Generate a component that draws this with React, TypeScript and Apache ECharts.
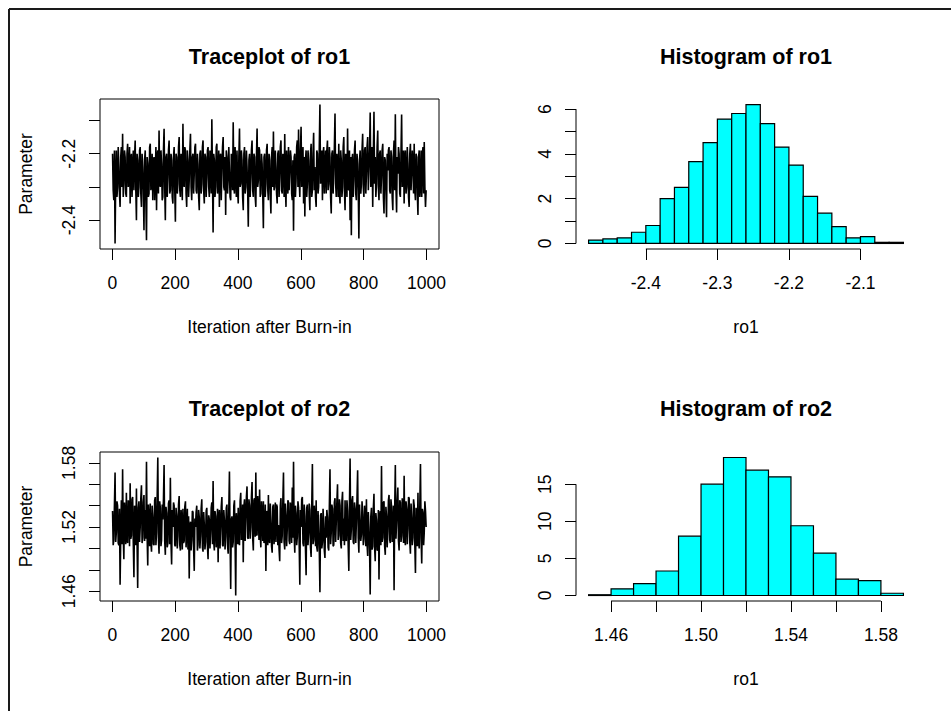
import React, { useEffect, useRef } from "react";
import * as echarts from "echarts";

const FONT = '"Liberation Sans", Arial, Helvetica, sans-serif';

const TITLES = ["Traceplot of ro1", "Histogram of ro1", "Traceplot of ro2", "Histogram of ro2"];
const TRACE_X_NAME = "Iteration after Burn-in";
const TRACE_Y_NAME = "Parameter";
const HIST_X_NAMES = ["ro1", "ro1"];

// "A" draws sit at iterations 1, 5, 9, ...; "B" draws at iterations 3, 7, 11, ...
const TRACE_A_FIRST = 1;
const TRACE_B_FIRST = 3;
const TRACE_STEP = 4;
const RO1_TRACE_A = [
  -2.20, -2.34, -2.47, -2.19, -2.30, -2.24, -2.36, -2.18, -2.14, -2.29,
  -2.21, -2.33, -2.17, -2.27, -2.35, -2.20, -2.25, -2.31, -2.16, -2.40,
  -2.22, -2.30, -2.18, -2.36, -2.24, -2.43, -2.19, -2.46, -2.23, -2.32,
  -2.17, -2.28, -2.34, -2.21, -2.26, -2.37, -2.19, -2.13, -2.30, -2.23,
  -2.33, -2.125, -2.40, -2.20, -2.27, -2.16, -2.31, -2.22, -2.35, -2.18,
  -2.405, -2.21, -2.29, -2.15, -2.33, -2.24, -2.11, -2.30, -2.19, -2.36,
  -2.22, -2.28, -2.14, -2.34, -2.20, -2.26, -2.17, -2.32, -2.23, -2.37,
  -2.19, -2.29, -2.16, -2.35, -2.21, -2.27, -2.18, -2.33, -2.24, -2.096,
  -2.437, -2.22, -2.30, -2.17, -2.28, -2.36, -2.20, -2.25, -2.15, -2.31,
  -2.384, -2.21, -2.27, -2.18, -2.34, -2.23, -2.105, -2.32, -2.26, -2.19,
  -2.35, -2.124, -2.29, -2.22, -2.37, -2.18, -2.30, -2.24, -2.42, -2.20,
  -2.27, -2.16, -2.33, -2.21, -2.36, -2.124, -2.28, -2.19, -2.32, -2.23,
  -2.424, -2.20, -2.29, -2.17, -2.34, -2.22, -2.38, -2.18, -2.133, -2.30,
  -2.24, -2.35, -2.19, -2.27, -2.16, -2.32, -2.22, -2.141, -2.36, -2.25,
  -2.18, -2.31, -2.21, -2.34, -2.432, -2.20, -2.28, -2.16, -2.127, -2.33,
  -2.119, -2.26, -2.35, -2.389, -2.19, -2.29, -2.22, -2.37, -2.17, -2.31,
  -2.137, -2.24, -2.36, -2.20, -2.30, -2.052, -2.27, -2.34, -2.18, -2.25,
  -2.32, -2.16, -2.29, -2.21, -2.38, -2.19, -2.26, -2.079, -2.33, -2.23,
  -2.17, -2.35, -2.22, -2.30, -2.15, -2.37, -2.24, -2.124, -2.31, -2.40,
  -2.445, -2.20, -2.28, -2.16, -2.34, -2.23, -2.455, -2.19, -2.29, -2.14,
  -2.33, -2.18, -2.26, -2.15, -2.31, -2.076, -2.24, -2.36, -2.074, -2.21,
  -2.29, -2.13, -2.34, -2.19, -2.27, -2.17, -2.38, -2.22, -2.391, -2.25,
  -2.18, -2.32, -2.21, -2.37, -2.16, -2.081, -2.377, -2.26, -2.20, -2.33,
  -2.082, -2.28, -2.35, -2.19, -2.30, -2.23, -2.36, -2.17, -2.31, -2.24,
  -2.17, -2.34, -2.21, -2.384, -2.19, -2.29, -2.33, -2.18, -2.165, -2.36,
];
const RO1_TRACE_B = [
  -2.31, -2.19, -2.28, -2.33, -2.18, -2.32, -2.21, -2.30, -2.33, -2.19,
  -2.32, -2.20, -2.30, -2.18, -2.22, -2.33, -2.19, -2.21, -2.31, -2.20,
  -2.33, -2.19, -2.32, -2.20, -2.31, -2.22, -2.34, -2.21, -2.33, -2.18,
  -2.31, -2.20, -2.22, -2.34, -2.18, -2.21, -2.32, -2.29, -2.19, -2.34,
  -2.19, -2.30, -2.21, -2.33, -2.19, -2.32, -2.20, -2.33, -2.21, -2.31,
  -2.20, -2.32, -2.18, -2.31, -2.20, -2.34, -2.28, -2.18, -2.32, -2.19,
  -2.33, -2.19, -2.30, -2.21, -2.32, -2.18, -2.31, -2.20, -2.33, -2.20,
  -2.32, -2.18, -2.31, -2.20, -2.33, -2.19, -2.30, -2.19, -2.32, -2.27,
  -2.20, -2.33, -2.18, -2.32, -2.19, -2.21, -2.34, -2.18, -2.30, -2.21,
  -2.19, -2.32, -2.18, -2.33, -2.20, -2.31, -2.30, -2.18, -2.33, -2.31,
  -2.21, -2.30, -2.19, -2.33, -2.20, -2.32, -2.19, -2.31, -2.22, -2.33,
  -2.19, -2.31, -2.20, -2.33, -2.21, -2.30, -2.18, -2.33, -2.20, -2.32,
  -2.21, -2.33, -2.19, -2.31, -2.20, -2.32, -2.21, -2.30, -2.31, -2.19,
  -2.32, -2.20, -2.33, -2.18, -2.31, -2.20, -2.33, -2.30, -2.19, -2.32,
  -2.31, -2.19, -2.32, -2.22, -2.21, -2.33, -2.18, -2.30, -2.28, -2.19,
  -2.30, -2.18, -2.21, -2.22, -2.33, -2.19, -2.32, -2.20, -2.33, -2.20,
  -2.31, -2.33, -2.19, -2.32, -2.18, -2.29, -2.19, -2.20, -2.32, -2.19,
  -2.19, -2.31, -2.18, -2.33, -2.20, -2.32, -2.18, -2.29, -2.20, -2.33,
  -2.32, -2.19, -2.33, -2.18, -2.31, -2.20, -2.33, -2.30, -2.19, -2.21,
  -2.22, -2.33, -2.19, -2.32, -2.20, -2.31, -2.22, -2.32, -2.19, -2.30,
  -2.19, -2.32, -2.18, -2.31, -2.19, -2.30, -2.18, -2.20, -2.29, -2.33,
  -2.18, -2.30, -2.20, -2.32, -2.19, -2.33, -2.21, -2.31, -2.20, -2.19,
  -2.31, -2.19, -2.33, -2.20, -2.31, -2.30, -2.21, -2.18, -2.32, -2.20,
  -2.30, -2.19, -2.21, -2.32, -2.18, -2.33, -2.20, -2.31, -2.19, -2.32,
  -2.31, -2.20, -2.32, -2.21, -2.33, -2.19, -2.20, -2.32, -2.30, -2.31,
];
const RO2_TRACE_A = [
  1.535, 1.508, 1.571, 1.515, 1.540, 1.503, 1.466, 1.545, 1.574, 1.490,
  1.528, 1.552, 1.505, 1.538, 1.561, 1.512, 1.548, 1.473, 1.532, 1.556,
  1.463, 1.544, 1.520, 1.559, 1.510, 1.550, 1.536, 1.581, 1.484, 1.525,
  1.542, 1.497, 1.530, 1.503, 1.548, 1.515, 1.585, 1.495, 1.538, 1.508,
  1.527, 1.578, 1.494, 1.533, 1.505, 1.545, 1.566, 1.485, 1.520, 1.540,
  1.502, 1.531, 1.512, 1.549, 1.498, 1.528, 1.537, 1.507, 1.544, 1.516,
  1.499, 1.472, 1.525, 1.508, 1.534, 1.479, 1.520, 1.540, 1.503, 1.529,
  1.512, 1.546, 1.497, 1.522, 1.506, 1.538, 1.490, 1.527, 1.515, 1.543,
  1.563, 1.498, 1.530, 1.510, 1.487, 1.536, 1.519, 1.548, 1.502, 1.526,
  1.511, 1.541, 1.495, 1.572, 1.462, 1.530, 1.506, 1.545, 1.456, 1.521,
  1.538, 1.503, 1.552, 1.515, 1.487, 1.546, 1.528, 1.558, 1.509, 1.540,
  1.520, 1.562, 1.498, 1.547, 1.571, 1.513, 1.536, 1.555, 1.501, 1.531,
  1.544, 1.510, 1.479, 1.533, 1.550, 1.505, 1.525, 1.496, 1.541, 1.517,
  1.506, 1.539, 1.522, 1.488, 1.547, 1.512, 1.571, 1.499, 1.530, 1.518,
  1.543, 1.504, 1.527, 1.557, 1.581, 1.496, 1.533, 1.511, 1.538, 1.466,
  1.520, 1.548, 1.502, 1.530, 1.475, 1.541, 1.514, 1.536, 1.492, 1.579,
  1.508, 1.527, 1.545, 1.497, 1.518, 1.459, 1.533, 1.506, 1.522, 1.491,
  1.510, 1.529, 1.498, 1.574, 1.515, 1.537, 1.503, 1.547, 1.525, 1.560,
  1.512, 1.540, 1.500, 1.553, 1.528, 1.545, 1.507, 1.535, 1.479, 1.584,
  1.518, 1.549, 1.504, 1.537, 1.524, 1.573, 1.496, 1.541, 1.513, 1.532,
  1.509, 1.528, 1.546, 1.493, 1.520, 1.457, 1.538, 1.502, 1.551, 1.488,
  1.526, 1.499, 1.471, 1.535, 1.577, 1.510, 1.544, 1.494, 1.529, 1.516,
  1.550, 1.505, 1.539, 1.520, 1.461, 1.578, 1.525, 1.557, 1.498, 1.543,
  1.512, 1.532, 1.568, 1.503, 1.537, 1.519, 1.547, 1.495, 1.528, 1.510,
  1.540, 1.477, 1.524, 1.552, 1.500, 1.579, 1.486, 1.534, 1.515, 1.535,
];
const RO2_TRACE_B = [
  1.503, 1.541, 1.506, 1.544, 1.505, 1.537, 1.510, 1.504, 1.512, 1.543,
  1.504, 1.508, 1.545, 1.502, 1.509, 1.546, 1.505, 1.540, 1.503, 1.507,
  1.538, 1.506, 1.547, 1.505, 1.543, 1.507, 1.509, 1.512, 1.541, 1.502,
  1.506, 1.540, 1.504, 1.545, 1.503, 1.547, 1.510, 1.544, 1.502, 1.541,
  1.546, 1.507, 1.539, 1.501, 1.542, 1.504, 1.506, 1.536, 1.543, 1.503,
  1.538, 1.500, 1.541, 1.503, 1.536, 1.499, 1.505, 1.539, 1.501, 1.537,
  1.530, 1.519, 1.498, 1.535, 1.500, 1.528, 1.534, 1.498, 1.536, 1.500,
  1.537, 1.501, 1.534, 1.499, 1.535, 1.502, 1.531, 1.500, 1.538, 1.504,
  1.506, 1.535, 1.501, 1.537, 1.530, 1.500, 1.539, 1.503, 1.536, 1.499,
  1.538, 1.503, 1.536, 1.509, 1.527, 1.501, 1.540, 1.506, 1.533, 1.504,
  1.506, 1.544, 1.508, 1.541, 1.539, 1.507, 1.548, 1.510, 1.546, 1.509,
  1.548, 1.510, 1.545, 1.511, 1.512, 1.549, 1.508, 1.513, 1.544, 1.507,
  1.505, 1.541, 1.535, 1.503, 1.508, 1.542, 1.502, 1.539, 1.504, 1.543,
  1.541, 1.503, 1.499, 1.540, 1.505, 1.544, 1.506, 1.542, 1.502, 1.545,
  1.507, 1.543, 1.505, 1.510, 1.512, 1.540, 1.503, 1.544, 1.504, 1.536,
  1.546, 1.505, 1.541, 1.500, 1.538, 1.503, 1.542, 1.501, 1.539, 1.504,
  1.540, 1.502, 1.501, 1.535, 1.499, 1.531, 1.500, 1.537, 1.498, 1.530,
  1.536, 1.501, 1.539, 1.504, 1.541, 1.502, 1.543, 1.506, 1.544, 1.508,
  1.546, 1.505, 1.544, 1.507, 1.503, 1.509, 1.545, 1.502, 1.540, 1.508,
  1.545, 1.506, 1.543, 1.505, 1.547, 1.510, 1.541, 1.507, 1.544, 1.503,
  1.540, 1.502, 1.504, 1.534, 1.500, 1.530, 1.499, 1.537, 1.501, 1.533,
  1.498, 1.536, 1.530, 1.503, 1.506, 1.543, 1.502, 1.539, 1.501, 1.545,
  1.508, 1.546, 1.506, 1.540, 1.537, 1.509, 1.544, 1.507, 1.545, 1.506,
  1.547, 1.505, 1.509, 1.544, 1.504, 1.548, 1.506, 1.542, 1.503, 1.546,
  1.504, 1.538, 1.502, 1.507, 1.541, 1.510, 1.537, 1.503, 1.544, 1.520,
];

const ITER_RANGE = [1, 1000];
const ITER_TICKS = [0, 200, 400, 600, 800, 1000];
const RO1_TRACE_Y_TICKS = [-2.4, -2.3, -2.2, -2.1];
const RO1_TRACE_Y_LABELS = [-2.4, -2.2];
const RO2_TRACE_Y_TICKS = [1.46, 1.48, 1.5, 1.52, 1.54, 1.56, 1.58];
const RO2_TRACE_Y_LABELS = [1.46, 1.52, 1.58];

// Histograms (density scale)
const RO1_BREAKS = [
  -2.48, -2.46, -2.44, -2.42, -2.40, -2.38, -2.36, -2.34, -2.32, -2.30, -2.28, -2.26,
  -2.24, -2.22, -2.20, -2.18, -2.16, -2.14, -2.12, -2.10, -2.08, -2.06, -2.04,
];
const RO1_DENSITY = [
  0.15, 0.2, 0.25, 0.5, 0.8, 2.0, 2.5, 3.65, 4.5, 5.55, 5.8,
  6.2, 5.35, 4.3, 3.5, 2.1, 1.35, 0.75, 0.25, 0.3, 0.05, 0.05,
];
const RO1_HIST_X_TICKS = [-2.4, -2.3, -2.2, -2.1];
const RO1_HIST_Y_TICKS = [0, 1, 2, 3, 4, 5, 6];
const RO1_HIST_Y_LABELS = [0, 2, 4, 6];

const RO2_BREAKS = [1.45, 1.46, 1.47, 1.48, 1.49, 1.50, 1.51, 1.52, 1.53, 1.54, 1.55, 1.56, 1.57, 1.58, 1.59];
const RO2_DENSITY = [0.1, 0.9, 1.6, 3.3, 8.0, 15.0, 18.6, 16.9, 16.0, 9.4, 5.7, 2.2, 2.0, 0.3];
const RO2_HIST_X_TICKS = [1.46, 1.48, 1.5, 1.52, 1.54, 1.56, 1.58];
const RO2_HIST_X_LABELS = [1.46, 1.5, 1.54, 1.58];
const RO2_HIST_Y_TICKS = [0, 5, 10, 15];
const RO2_HIST_Y_LABELS = [0, 5, 10, 15];

// ---- layout (pixels) ----
const PANELS = [
  { left: 100, top: 99, width: 339, height: 150 },
  { left: 576, top: 99, width: 340, height: 150 },
  { left: 100, top: 452, width: 339, height: 149 },
  { left: 576, top: 452, width: 340, height: 149 },
];
const TITLE_TOPS = [46, 46, 398, 398];

const TICK_FS = 17.5;
const TITLE_FS = 21.5;
const TRACE_LINE_WIDTH = 1.6;

// R's default 4% axis extension
const rRange = (lo: number, hi: number) => {
  const d = (hi - lo) * 0.04;
  return [lo - d, hi + d];
};

const textStyle = { color: "#000", fontFamily: FONT, fontSize: TICK_FS };

function makeAxis(
  dim: "x" | "y",
  gridIndex: number,
  range: number[],
  ticks: number[],
  labels: number[],
  digits: number,
  name: string,
  nameGap: number
) {
  return {
    type: "value",
    gridIndex,
    min: range[0],
    max: range[1],
    name,
    nameLocation: "middle",
    nameGap,
    nameTextStyle: { ...textStyle },
    axisLine: { show: false, onZero: false },
    axisTick: {
      show: true,
      inside: false,
      length: 11,
      customValues: ticks,
      lineStyle: { color: "#000", width: 1 },
    },
    axisLabel: {
      show: true,
      customValues: labels,
      margin: dim === "x" ? 25 : 22,
      rotate: dim === "y" ? 90 : 0,
      ...textStyle,
      formatter: (v: number) => v.toFixed(digits),
    },
    splitLine: { show: false },
    splitArea: { show: false },
  };
}

function traceData(a: number[], b: number[]) {
  const pts: number[][] = [];
  a.forEach((v, i) => pts.push([TRACE_A_FIRST + TRACE_STEP * i, v]));
  b.forEach((v, i) => pts.push([TRACE_B_FIRST + TRACE_STEP * i, v]));
  return pts.sort((p, q) => p[0] - q[0]);
}

function traceSeries(idx: number, data: number[][]) {
  return {
    type: "line",
    xAxisIndex: idx,
    yAxisIndex: idx,
    data,
    symbol: "none",
    silent: true,
    lineStyle: { color: "#000", width: TRACE_LINE_WIDTH },
  };
}

function histData(breaks: number[], dens: number[]) {
  return dens.map((d, i) => [breaks[i], breaks[i + 1], d]);
}

function histSeries(idx: number, breaks: number[], dens: number[]) {
  return {
    type: "custom",
    xAxisIndex: idx,
    yAxisIndex: idx,
    data: histData(breaks, dens),
    encode: { x: [0, 1], y: 2 },
    silent: true,
    renderItem: (_p: any, api: any) => {
      const a = api.coord([api.value(0), 0]);
      const b = api.coord([api.value(1), api.value(2)]);
      return {
        type: "rect",
        shape: { x: a[0], y: b[1], width: b[0] - a[0], height: a[1] - b[1] },
        style: { fill: "#00FFFF", stroke: "#000", lineWidth: 1.2 },
      };
    },
  };
}

function axisLineSeries(idx: number, pts: number[][]) {
  return {
    type: "line",
    xAxisIndex: idx,
    yAxisIndex: idx,
    data: pts,
    symbol: "none",
    clip: false,
    silent: true,
    lineStyle: { color: "#000", width: 1 },
  };
}

export default function App() {
  const ref = useRef<HTMLDivElement>(null);

  useEffect(() => {
    if (!ref.current) return;
    const chart = echarts.init(ref.current, undefined, { renderer: "svg" });

    const ro1Data = traceData(RO1_TRACE_A, RO1_TRACE_B);
    const ro2Data = traceData(RO2_TRACE_A, RO2_TRACE_B);
    const ro1All = ro1Data.map((p) => p[1]);
    const ro2All = ro2Data.map((p) => p[1]);

    const xTraceRange = rRange(ITER_RANGE[0], ITER_RANGE[1]);
    const y1TraceRange = rRange(Math.min(...ro1All), Math.max(...ro1All));
    const y2TraceRange = rRange(Math.min(...ro2All), Math.max(...ro2All));
    const x1HistRange = rRange(RO1_BREAKS[0], RO1_BREAKS[RO1_BREAKS.length - 1]);
    const y1HistRange = rRange(0, Math.max(...RO1_DENSITY));
    const x2HistRange = rRange(RO2_BREAKS[0], RO2_BREAKS[RO2_BREAKS.length - 1]);
    const y2HistRange = rRange(0, Math.max(...RO2_DENSITY));

    const option: any = {
      animation: false,
      backgroundColor: "#fff",
      title: TITLES.map((t, i) => ({
        text: t,
        left: PANELS[i].left + PANELS[i].width / 2,
        top: TITLE_TOPS[i],
        textAlign: "center",
        padding: 0,
        textStyle: { color: "#000", fontFamily: FONT, fontSize: TITLE_FS, fontWeight: "bold" },
      })),
      grid: PANELS.map((p, i) => ({
        left: p.left,
        top: p.top,
        width: p.width,
        height: p.height,
        containLabel: false,
        outerBoundsMode: "none",
        show: i % 2 === 0,
        borderColor: "#000",
        borderWidth: 1,
        backgroundColor: "transparent",
      })),
      xAxis: [
        makeAxis("x", 0, xTraceRange, ITER_TICKS, ITER_TICKS, 0, TRACE_X_NAME, 69),
        makeAxis("x", 1, x1HistRange, RO1_HIST_X_TICKS, RO1_HIST_X_TICKS, 1, HIST_X_NAMES[0], 69),
        makeAxis("x", 2, xTraceRange, ITER_TICKS, ITER_TICKS, 0, TRACE_X_NAME, 69),
        makeAxis("x", 3, x2HistRange, RO2_HIST_X_TICKS, RO2_HIST_X_LABELS, 2, HIST_X_NAMES[1], 69),
      ],
      yAxis: [
        makeAxis("y", 0, y1TraceRange, RO1_TRACE_Y_TICKS, RO1_TRACE_Y_LABELS, 1, TRACE_Y_NAME, 65),
        makeAxis("y", 1, y1HistRange, RO1_HIST_Y_TICKS, RO1_HIST_Y_LABELS, 0, "", 65),
        makeAxis("y", 2, y2TraceRange, RO2_TRACE_Y_TICKS, RO2_TRACE_Y_LABELS, 2, TRACE_Y_NAME, 65),
        makeAxis("y", 3, y2HistRange, RO2_HIST_Y_TICKS, RO2_HIST_Y_LABELS, 0, "", 65),
      ],
      series: [
        traceSeries(0, ro1Data),
        traceSeries(2, ro2Data),
        histSeries(1, RO1_BREAKS, RO1_DENSITY),
        histSeries(3, RO2_BREAKS, RO2_DENSITY),
        axisLineSeries(1, [
          [x1HistRange[0], RO1_HIST_Y_TICKS[0]],
          [x1HistRange[0], RO1_HIST_Y_TICKS[RO1_HIST_Y_TICKS.length - 1]],
        ]),
        axisLineSeries(1, [
          [RO1_HIST_X_TICKS[0], y1HistRange[0]],
          [RO1_HIST_X_TICKS[RO1_HIST_X_TICKS.length - 1], y1HistRange[0]],
        ]),
        axisLineSeries(3, [
          [x2HistRange[0], RO2_HIST_Y_TICKS[0]],
          [x2HistRange[0], RO2_HIST_Y_TICKS[RO2_HIST_Y_TICKS.length - 1]],
        ]),
        axisLineSeries(3, [
          [RO2_HIST_X_TICKS[0], y2HistRange[0]],
          [RO2_HIST_X_TICKS[RO2_HIST_X_TICKS.length - 1], y2HistRange[0]],
        ]),
      ],
      graphic: [
        { type: "line", silent: true, shape: { x1: 9, y1: 9, x2: 951, y2: 9 }, style: { stroke: "#1a1a1a", lineWidth: 2 } },
        { type: "line", silent: true, shape: { x1: 9, y1: 9, x2: 9, y2: 711 }, style: { stroke: "#1a1a1a", lineWidth: 2 } },
      ],
    };

    chart.setOption(option);
    return () => chart.dispose();
  }, []);

  return (
    <div
      ref={ref}
      style={{ position: "fixed", left: 0, top: 0, width: "951px", height: "711px", background: "#fff" }}
    />
  );
}
